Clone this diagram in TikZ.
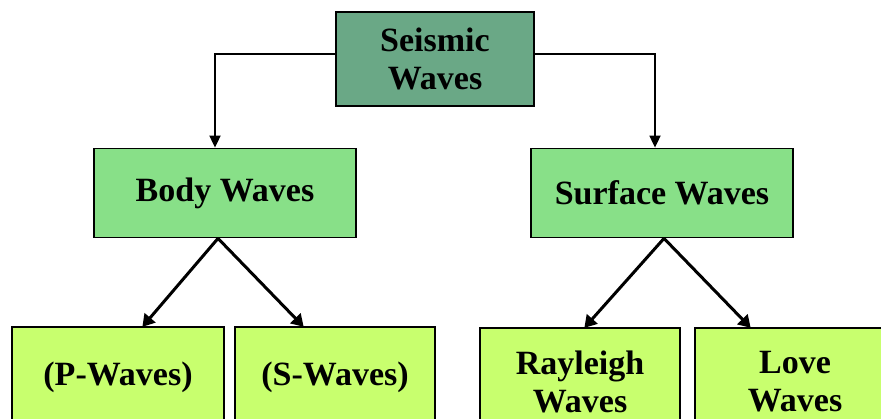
\documentclass[tikz,border=0pt]{standalone}
\usepackage{fontspec}
\setmainfont{Liberation Serif}
\usetikzlibrary{arrows.meta,positioning}
\definecolor{seiscol}{HTML}{6AA886}
\definecolor{midcol}{HTML}{88E088}
\definecolor{lowcol}{HTML}{C8FF6E}
\tikzset{
  box/.style={draw=black, line width=1.8pt, align=center, inner sep=0pt,
    font=\bfseries\fontsize{34}{38}\selectfont},
  elbow/.style={draw=black, line width=1.8pt, -{Triangle[length=12pt,width=11pt]}},
  diag/.style={draw=black, line width=3pt, -{Triangle[length=12pt,width=14pt]}, shorten >=-1pt}
}
\begin{document}
\begin{tikzpicture}[x=1pt,y=-1pt]
\clip (0,0) rectangle (881,418);
\fill[white] (0,0) rectangle (881,418);
\node[box, fill=seiscol, minimum width=198pt, minimum height=94pt] (seis) at (435,59) {Seismic\\Waves};
\node[box, fill=midcol, minimum width=262pt, minimum height=89pt] (body) at (225,193) {Body Waves};
\node[box, fill=midcol, minimum width=262pt, minimum height=89pt] (surf) at (662,193) {Surface Waves};
\node[box, fill=lowcol, minimum width=212pt, minimum height=100pt] (pw) at (118,377) {(P-Waves)};
\node[box, fill=lowcol, minimum width=200pt, minimum height=100pt] (sw) at (335,377) {(S-Waves)};
\node[box, fill=lowcol, minimum width=200pt, minimum height=108pt] (ray) at (580,382) {Rayleigh\\Waves};
\node[box, fill=lowcol, minimum width=200pt, minimum height=108pt] (love) at (795,382) {Love\\Waves};
\draw[elbow] ([yshift=5pt]seis.west) -| ([xshift=-10pt]body.north);
\draw[elbow] ([yshift=5pt]seis.east) -| ([xshift=-7pt]surf.north);
\draw[diag] ([xshift=-7pt]body.south) -- ([xshift=25pt]pw.north);
\draw[diag] ([xshift=-7pt]body.south) -- ([xshift=-32pt]sw.north);
\draw[diag] ([xshift=2pt]surf.south) -- ([xshift=5pt]ray.north);
\draw[diag] ([xshift=2pt]surf.south) -- ([xshift=-45pt]love.north);
\end{tikzpicture}
\end{document}
